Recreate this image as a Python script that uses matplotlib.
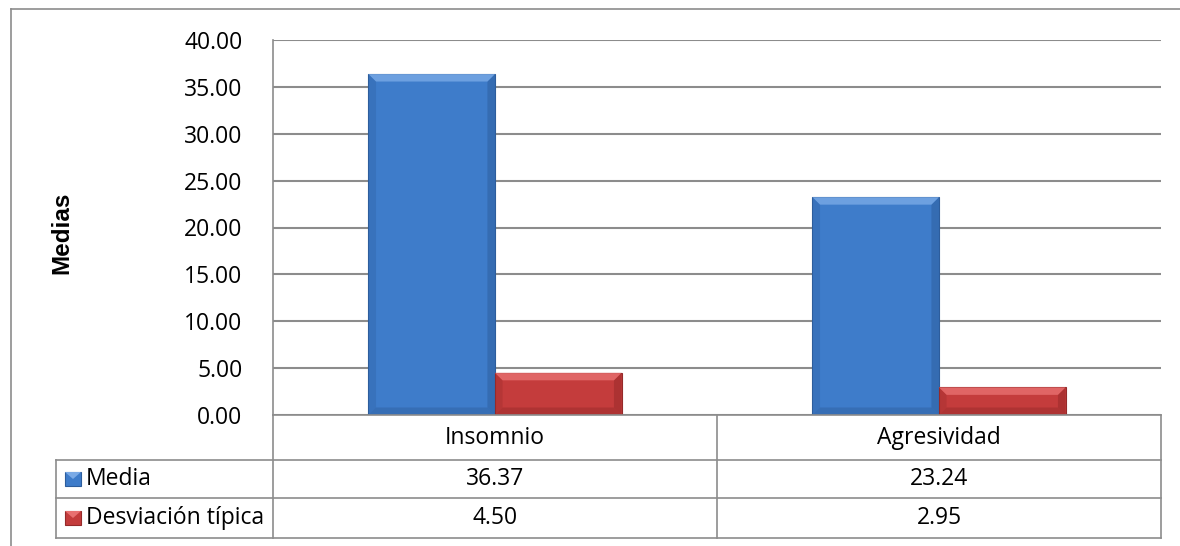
import matplotlib
matplotlib.use("Agg")
import matplotlib.pyplot as plt
from matplotlib.patches import Polygon, Rectangle
from matplotlib.lines import Line2D

# Data
categorias = ["Insomnio", "Agresividad"]
series = ["Media", "Desviación típica"]
media = [36.37, 23.24]
desviacion = [4.50, 2.95]
yticks = [0, 5, 10, 15, 20, 25, 30, 35, 40]

plt.rcParams['font.family'] = ['Open Sans', 'DejaVu Sans']
FS = 16.5

W, H = 1180, 546
fig = plt.figure(figsize=(W / 100, H / 100), dpi=100)

# plot area in pixel coords
x0, x1 = 273, 1161
y_top, y_bot = 40, 415


def fx(px):
    return px / W


def fy(py):
    return 1 - py / H


ax = fig.add_axes([fx(x0), fy(y_bot), fx(x1) - fx(x0), fy(y_top) - fy(y_bot)])
ax.set_xlim(0, len(categorias))
ax.set_ylim(0, 40)
ax.set_yticks(yticks)
ax.set_yticklabels([f"{v:.2f}" for v in yticks], fontsize=FS)
ax.tick_params(axis="y", length=0, pad=22)
ax.set_xticks([])
for s in ["top", "right", "bottom"]:
    ax.spines[s].set_visible(False)
ax.spines["left"].set_color("#8c8c8c")
ax.spines["left"].set_linewidth(1.2)
ax.yaxis.grid(True, color="#8c8c8c", linewidth=1.5)
ax.set_axisbelow(True)

colores = {
    "Media": ("#3e7cca", "#2d5d9c", "#7aaae6"),
    "Desviación típica": ("#c43c3c", "#952a2a", "#e87070"),
}

bar_w = 0.285


def bevel_bar(ax, x, h, base, dark, light):
    # flat face plus simple bevels on the sides and top
    ax.add_patch(Rectangle((x, 0), bar_w, h, facecolor=base, edgecolor=dark,
                           linewidth=0.8, zorder=3))
    bx = bar_w * 0.06
    by = min(h * 0.3, 0.8)
    ax.add_patch(Polygon([(x, 0), (x + bx, by), (x + bx, h - by), (x, h)],
                         closed=True, facecolor=dark, alpha=0.3,
                         linewidth=0, zorder=4))
    ax.add_patch(Polygon([(x + bar_w, 0), (x + bar_w - bx, by),
                          (x + bar_w - bx, h - by), (x + bar_w, h)],
                         closed=True, facecolor=dark, alpha=0.5,
                         linewidth=0, zorder=4))
    ax.add_patch(Polygon([(x, h), (x + bx, h - by), (x + bar_w - bx, h - by),
                          (x + bar_w, h)],
                         closed=True, facecolor=light, alpha=0.8,
                         linewidth=0, zorder=4))
    ax.add_patch(Polygon([(x, 0), (x + bx, by), (x + bar_w - bx, by),
                          (x + bar_w, 0)],
                         closed=True, facecolor=dark, alpha=0.45,
                         linewidth=0, zorder=4))


for i in range(len(categorias)):
    c = i + 0.5
    b, d, l = colores["Media"]
    bevel_bar(ax, c - bar_w, media[i], b, d, l)
    b, d, l = colores["Desviación típica"]
    bevel_bar(ax, c, desviacion[i], b, d, l)

# y label
fig.text(fx(62), fy(233), "Medias", rotation=90, ha="center", va="center",
         fontsize=17.5, fontweight="bold", family=["Liberation Sans", "DejaVu Sans"])

# outer chart frame
grid_c = "#8c8c8c"
fig.add_artist(Line2D([fx(11), 1], [fy(9), fy(9)], color=grid_c, lw=1.2))
fig.add_artist(Line2D([fx(11), fx(11)], [fy(9), 0], color=grid_c, lw=1.2))

# data table below the axis
col_mid = (x0 + x1) / 2
row_y = [415, 460, 498, 538]
tab_left = 56
lc = "#8c8c8c"


def hline(xa, xb, y):
    fig.add_artist(Line2D([fx(xa), fx(xb)], [fy(y), fy(y)], color=lc, lw=1.2))


def vline(x, ya, yb):
    fig.add_artist(Line2D([fx(x), fx(x)], [fy(ya), fy(yb)], color=lc, lw=1.2))


hline(x0, x1, row_y[0])
hline(tab_left, x1, row_y[1])
hline(tab_left, x1, row_y[2])
hline(tab_left, x1, row_y[3])
vline(tab_left, row_y[1], row_y[3])
vline(x0, row_y[0], row_y[3])
vline(col_mid, row_y[0], row_y[3])
vline(x1, row_y[0], row_y[3])

centros = [(x0 + col_mid) / 2, (col_mid + x1) / 2]
for i, cat in enumerate(categorias):
    fig.text(fx(centros[i]), fy((row_y[0] + row_y[1]) / 2), cat,
             ha="center", va="center", fontsize=FS)
    fig.text(fx(centros[i]), fy((row_y[1] + row_y[2]) / 2), f"{media[i]:.2f}",
             ha="center", va="center", fontsize=FS)
    fig.text(fx(centros[i]), fy((row_y[2] + row_y[3]) / 2), f"{desviacion[i]:.2f}",
             ha="center", va="center", fontsize=FS)

# legend keys in the table
for j, nombre in enumerate(series):
    yc = (row_y[1 + j] + row_y[2 + j]) / 2
    b, d, l = colores[nombre]
    fig.add_artist(Rectangle((fx(65), fy(yc + 7)), fx(16), fy(0) - fy(14),
                             facecolor=b, edgecolor=d, lw=0.8,
                             transform=fig.transFigure))
    fig.add_artist(Polygon([(fx(65), fy(yc - 7)), (fx(81), fy(yc - 7)),
                            (fx(73), fy(yc))], closed=True,
                           facecolor=l, lw=0, transform=fig.transFigure))
    fig.text(fx(86), fy(yc), nombre, ha="left", va="center", fontsize=FS)

fig.savefig("out.png", dpi=100)
